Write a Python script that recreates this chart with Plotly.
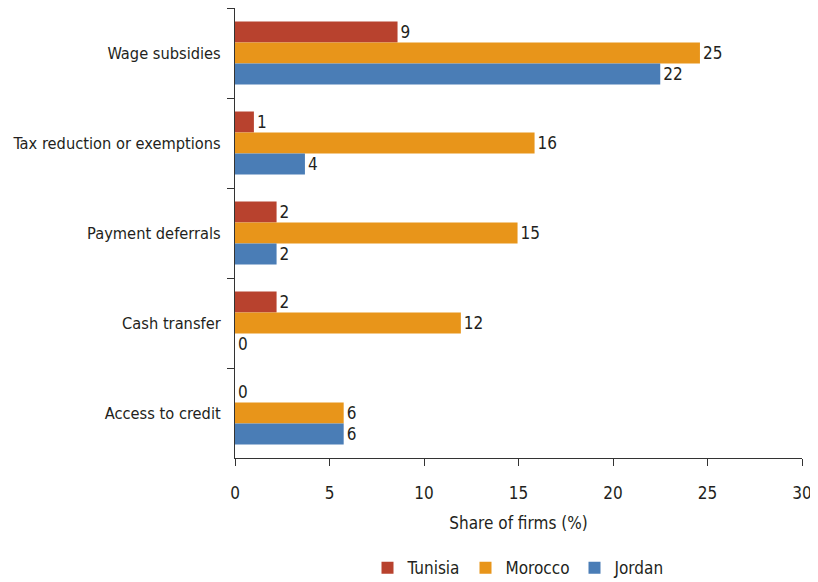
import plotly.graph_objects as go

categories = ["Wage subsidies", "Tax reduction or exemptions", "Payment deferrals",
              "Cash transfer", "Access to credit"]
tunisia = [8.6, 1.0, 2.2, 2.2, 0.0]
morocco = [24.6, 15.85, 14.95, 11.95, 5.75]
jordan = [22.5, 3.7, 2.2, 0.0, 5.75]
series_names = ["Tunisia", "Morocco", "Jordan"]
colors = ["#b8422e", "#e8951a", "#4a7db6"]
x_ticks = [0, 5, 10, 15, 20, 25, 30]

FONT = "DejaVu Sans Condensed, Liberation Sans Narrow, sans-serif"
TXT = "#231f20"
FS = 17

fig = go.Figure()
for name, vals, col in zip(series_names, [tunisia, morocco, jordan], colors):
    fig.add_trace(go.Bar(
        y=categories, x=vals, name=name, orientation="h",
        marker=dict(color=col, line=dict(width=0)),
        text=[f"{v:.0f}" for v in vals], textposition="outside",
        textfont=dict(family=FONT, size=FS, color=TXT),
        cliponaxis=False,
    ))

# page has an 8px body margin, so the figure is sized to fit inside the window
fig.update_layout(
    width=810, height=574,
    margin=dict(l=227, r=16, t=0, b=124, autoexpand=False),
    barmode="group", bargap=0.3, bargroupgap=0,
    plot_bgcolor="white", paper_bgcolor="white",
    font=dict(family=FONT, size=FS, color=TXT),
    showlegend=True,
    legend=dict(orientation="h", x=0.5, xanchor="center", y=-0.205, yanchor="top",
                font=dict(family=FONT, size=FS, color=TXT), traceorder="normal"),
    xaxis=dict(range=[0, 30], tickvals=x_ticks, ticks="outside", ticklen=7,
               tickcolor="#333", showline=True, linecolor="#333", linewidth=1,
               showgrid=False, zeroline=False, automargin=False, ticklabelstandoff=13,
               title=dict(text="Share of firms (%)", standoff=14,
                          font=dict(family=FONT, size=FS, color=TXT)),
               tickfont=dict(family=FONT, size=FS, color=TXT)),
    yaxis=dict(autorange="reversed", ticks="outside", tickson="boundaries", ticklen=7,
               tickcolor="#333", showline=True, linecolor="#333", linewidth=1,
               showgrid=False, zeroline=False, automargin=False, ticklabelstandoff=10,
               tickfont=dict(family=FONT, size=16.3, color=TXT)),
)

fig.write_html("out.html")
